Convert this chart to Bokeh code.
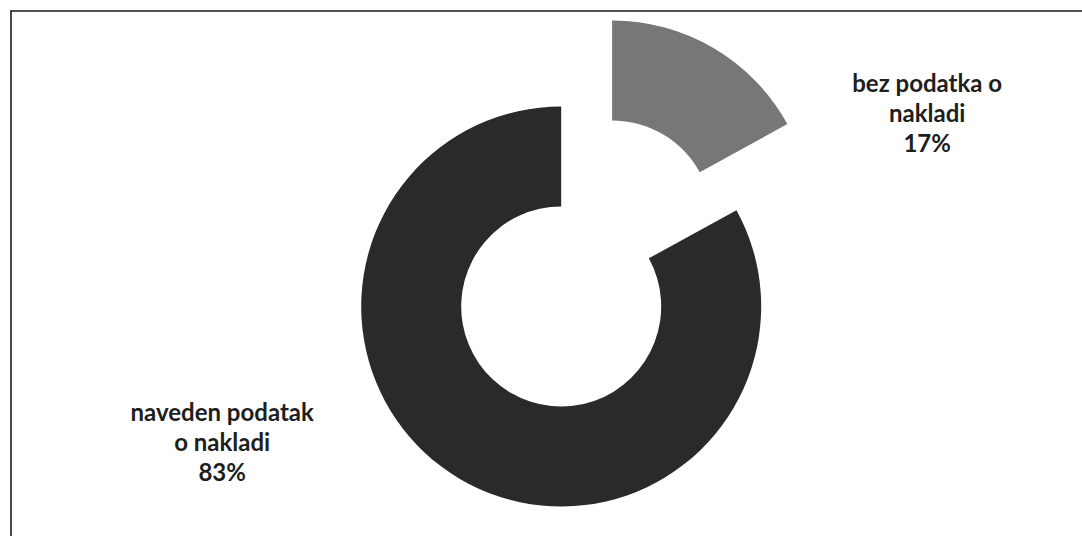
import math
from bokeh.plotting import figure
from bokeh.models import Range1d
from bokeh.core.properties import value
from bokeh.embed import file_html
from bokeh.resources import INLINE

# data
categories = ["bez podatka o\nnakladi", "naveden podatak\no nakladi"]
shares = [17, 83]
colors = ["#777777", "#2a2a2a"]

W, H = 1082, 536
p = figure(width=W, height=H, x_range=Range1d(0, W), y_range=Range1d(0, H),
           output_backend="svg", toolbar_location=None, min_border=0)
p.axis.visible = False
p.grid.visible = False
p.outline_line_color = None
p.background_fill_color = "white"
p.border_fill_color = "white"

cx, cy = 560.7, H - 306
r_in, r_out = 100, 200
explode = [100, 0]
label_pos = [(926.7, H - 112), (221.7, H - 441)]

total = sum(shares)
cum = 0.0
for i, (cat, v) in enumerate(zip(categories, shares)):
    a0 = math.pi / 2 - 2 * math.pi * cum / total
    a1 = math.pi / 2 - 2 * math.pi * (cum + v) / total
    mid = (a0 + a1) / 2
    ox = cx + explode[i] * math.cos(mid)
    oy = cy + explode[i] * math.sin(mid)
    p.annular_wedge(x=[ox], y=[oy], inner_radius=r_in, outer_radius=r_out,
                    start_angle=a0, end_angle=a1, direction="clock",
                    fill_color=colors[i], line_color=None)
    lx, ly = label_pos[i]
    p.text(x=[lx], y=[ly], text=[f"{cat}\n{v}%"], text_align="center",
           text_baseline="middle", text_font=value("Lato"),
           text_font_size="24px", text_font_style="bold",
           text_color="#1e1e1e", text_line_height=1.03)
    cum += v

# frame (top and left edges)
p.segment(x0=[10, 10.5], y0=[H - 10.5, H - 10], x1=[W, 10.5], y1=[H - 10.5, 0],
          line_color="#1a1a1a", line_width=1.6)

open("out.html", "w").write(file_html(p, INLINE))
